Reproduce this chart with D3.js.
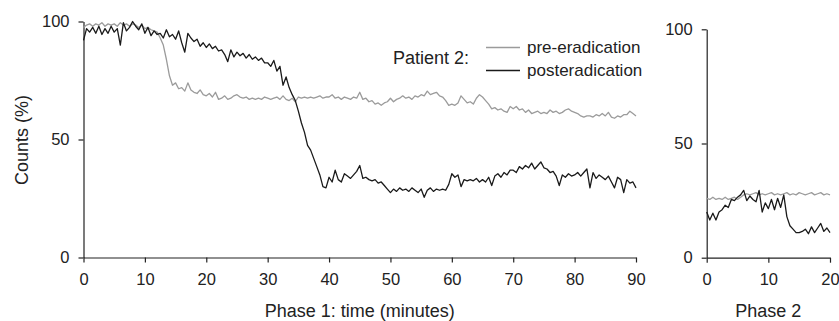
<!DOCTYPE html>
<html>
<head>
<meta charset="utf-8">
<script src="https://cdn.jsdelivr.net/npm/d3@7"></script>
<style>
  body { margin: 0; background: #fff; }
  svg { display: block; font-family: "Liberation Sans", Arial, sans-serif; }
</style>
</head>
<body>
<div id="chart"></div>
<script>
//Data: values, one value every half minute
var step = 0.5;

//Phase 1, 0 to 90 minutes (10 values = 5 minutes per row)
var phase1Pre = [
  97.5, 98.5, 99, 98, 99, 98.5, 99.5, 98, 99, 98.5,
  99, 98, 99.5, 98.5, 99, 98, 99, 98.5, 97.5, 98.5,
  97, 97.5, 96.5, 96, 95.5, 93, 90, 84, 77, 73,
  74, 71.5, 72, 70.5, 74, 71, 70, 69.5, 71, 69,
  68.5, 69.5, 68, 70, 67, 67.5, 68.5, 67, 67.5, 68.5,
  69, 68, 67.5, 68, 67, 67.5, 67, 67.5, 67, 68,
  67.5, 67, 67.5, 68, 67, 68.5, 67, 66.5, 67.5, 66,
  68, 67.5, 68, 67.5, 68, 67.5, 68, 68.5, 67.5, 68,
  68, 69, 67.5, 68, 67, 68, 67.5, 67, 68, 67.5,
  70, 67, 67.5, 66, 66.5, 65, 65.5, 64.5, 65.5, 66,
  67.5, 66, 67, 67.5, 68.5, 67.5, 68, 67, 68.5, 68,
  69, 68.5, 70.5, 69, 69.5, 70, 68.5, 68, 66.5, 64.5,
  65, 64.5, 65.5, 68.5, 67, 65.5, 66, 65, 67.5, 69,
  68, 66.5, 65, 63, 63.5, 62.5, 63, 62, 61.5, 64,
  63, 64, 62.5, 63, 61.5, 62.5, 61, 61.5, 62, 61,
  61.5, 61, 62.5, 61.5, 62, 61, 61.5, 62.5, 63, 62,
  61.5, 61, 60, 59.5, 60, 60, 59.5, 60.5, 60, 61,
  60, 61.5, 59.5, 59, 60, 59.5, 60.5, 60.5, 62, 61,
  60
];
var phase1Post = [
  92, 97, 95.5, 97.5, 95, 98, 94.5, 97, 95, 98,
  95.5, 97, 90, 99.5, 96, 97.5, 100, 98, 96.5, 99,
  95, 97.5, 94, 96, 94.5, 95, 93, 96.5, 93.5, 94.5,
  92.5, 96, 91, 87, 95, 93, 91.5, 92.5, 89.5, 91,
  89, 90.5, 88.5, 89.5, 87.5, 88, 86, 83, 88, 85,
  87, 85.5, 86.5, 84.5, 86, 84, 85, 83.5, 84.5, 82.5,
  82.5, 81, 83.5, 79, 81, 73, 76.5, 72, 69, 66.5,
  62, 57, 53, 47.5, 45.5, 42, 38.5, 35, 30, 29.5,
  34, 32, 37, 33, 32, 35.5, 34.5, 33.5, 35, 36.5,
  39, 33.5, 34, 33, 32.5, 33, 31.5, 32, 30.5, 29,
  27.5, 29, 28, 29.5, 28.5, 29, 28, 29.5, 28.5, 27.5,
  29, 25.5, 28.5, 29.5, 28, 29, 28.5, 29, 28.5, 31,
  35.5, 34, 35, 30, 33, 32.5, 33, 32.5, 33.5, 32,
  33, 32, 34, 30.5, 34.5, 35.5, 34, 36, 35, 37,
  37, 36, 38.5, 37.5, 39, 38, 40, 37.5, 39, 40.5,
  38, 37.5, 36, 36.5, 34.5, 30.5, 35, 34, 35.5, 34.5,
  35, 36, 34.5, 36, 37.5, 29.5, 36, 33.5, 35, 34,
  33, 34.5, 32, 29.5, 34, 33, 27.5, 33, 31.5, 32,
  29.5
];

//Phase 2, 0 to 20 minutes
var phase2Pre = [
  26, 25.5, 26.5, 25.5, 26, 25.5, 26.5, 25.5, 26, 26.5,
  25.5, 26.5, 27.5, 28, 27.5, 28, 28.5, 27.5, 28, 27.5,
  28, 28.5, 27.5, 28, 27.5, 28, 28.5, 27.5, 28, 27.5,
  28.5, 28, 27.5, 28, 28.5, 27.5, 28, 28.5, 27.5, 28,
  27.5
];
var phase2Post = [
  20, 16.5, 19.5, 16.5, 20, 21, 23, 22, 25.5, 25,
  26.5, 27.5, 29.5, 25, 27, 25.5, 24.5, 29.5, 20, 24,
  21.5, 25.5, 21, 26, 22, 27.5, 18, 14, 12.5, 11,
  11, 11.5, 12.5, 10.5, 13.5, 11, 13, 15, 11.5, 13,
  11
];

var yTicks = [0, 50, 100];
var phase1Ticks = [0, 10, 20, 30, 40, 50, 60, 70, 80, 90];
var phase2Ticks = [0, 10, 20];
var seriesNames = ["pre-eradication", "posteradication"];
var seriesColors = ["#9b9b9b", "#1a1a1a"];

var width = 839, height = 321;

var svg = d3.select("#chart").append("svg")
  .attr("width", width)
  .attr("height", height);

//Draws one panel: axes and both lines
function panel(opts) {
  var x = d3.scaleLinear().domain(opts.xDomain).range(opts.xRange);
  var y = d3.scaleLinear().domain([0, 100]).range(opts.yRange);

  var line = d3.line()
    .x(function (d, i) { return x(i * step); })
    .y(function (d) { return y(d); });

  var g = svg.append("g");

  //Y axis
  g.append("g")
    .attr("transform", "translate(" + opts.xRange[0] + ",0)")
    .call(d3.axisLeft(y).tickValues(yTicks).tickSize(5).tickSizeOuter(0).tickPadding(9))
    .call(styleAxis);

  //X axis
  g.append("g")
    .attr("transform", "translate(0," + opts.yRange[0] + ")")
    .call(d3.axisBottom(x).tickValues(opts.xTicks).tickSize(5).tickSizeOuter(0).tickPadding(11))
    .call(styleAxis);

  //Lines, pre first so post sits on top
  [opts.pre, opts.post].forEach(function (values, k) {
    g.append("path")
      .datum(values)
      .attr("fill", "none")
      .attr("stroke", seriesColors[k])
      .attr("stroke-width", 1.3)
      .attr("stroke-linejoin", "round")
      .attr("d", line);
  });

  //Axis title
  g.append("text")
    .attr("x", (opts.xRange[0] + opts.xRange[1]) / 2)
    .attr("y", 317)
    .attr("text-anchor", "middle")
    .style("font-size", "18px")
    .style("fill", "#222")
    .text(opts.title);
}

function styleAxis(sel) {
  sel.select(".domain").attr("stroke", "#222").attr("stroke-width", 1.2);
  sel.selectAll(".tick line").attr("stroke", "#222").attr("stroke-width", 1.2);
  sel.selectAll(".tick text")
    .style("font-size", "16.5px")
    .style("font-family", "'Liberation Sans', Arial, sans-serif")
    .attr("fill", "#222");
}

panel({
  xDomain: [0, 90], xRange: [83.5, 636],
  yRange: [257.5, 21.5], xTicks: phase1Ticks,
  pre: phase1Pre, post: phase1Post,
  title: "Phase 1: time (minutes)"
});

panel({
  xDomain: [0, 20], xRange: [706.7, 830],
  yRange: [257.7, 29.3], xTicks: phase2Ticks,
  pre: phase2Pre, post: phase2Post,
  title: "Phase 2"
});

//Y axis title
svg.append("text")
  .attr("transform", "translate(28,140) rotate(-90)")
  .attr("text-anchor", "middle")
  .style("font-size", "18px")
  .style("fill", "#222")
  .text("Counts (%)");

//Legend
var legend = svg.append("g");
legend.append("text")
  .attr("x", 393)
  .attr("y", 64)
  .style("font-size", "18px")
  .style("fill", "#222")
  .text("Patient 2:");

seriesNames.forEach(function (name, k) {
  var ly = 47.5 + k * 23;
  legend.append("line")
    .attr("x1", 486).attr("x2", 520)
    .attr("y1", ly).attr("y2", ly)
    .attr("stroke", seriesColors[k])
    .attr("stroke-width", 1.3);
  legend.append("text")
    .attr("x", 527)
    .attr("y", ly + 5.5)
    .style("font-size", "17px")
    .style("fill", "#222")
    .text(name);
});
</script>
</body>
</html>
